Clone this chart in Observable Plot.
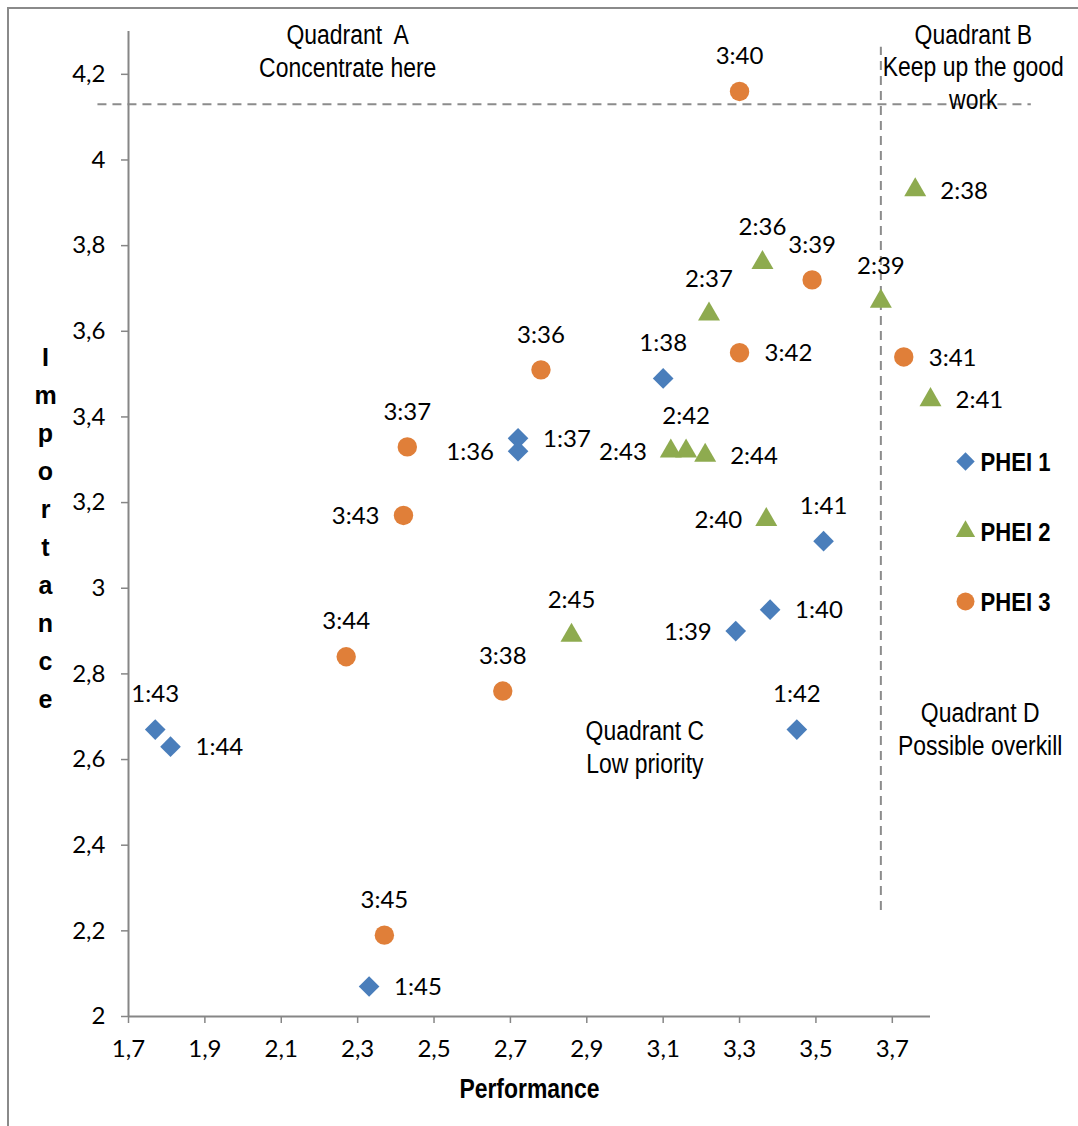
<!DOCTYPE html>
<html><head><meta charset="utf-8">
<script src="https://cdn.jsdelivr.net/npm/d3@7"></script>
<script src="https://cdn.jsdelivr.net/npm/@observablehq/plot@0.6"></script>
<style>
body{margin:0;background:#fff;}
#wrap{position:relative;width:1078px;height:1126px;overflow:hidden;background:#fff;}
#frame{position:absolute;left:7px;top:7px;width:1200px;height:1200px;border:2px solid #8a8a8a;box-sizing:border-box;}
#chart{position:absolute;left:0;top:0;}
</style></head><body>
<div id="wrap"><div id="frame"></div><div id="chart"></div></div>
<script>
// ---- data ----
const seriesNames = ["PHEI 1", "PHEI 2", "PHEI 3"];
const seriesColors = ["#4a7ebb", "#8eab4f", "#e07f39"];

const p1Ids  = ["1:36","1:37","1:38","1:39","1:40","1:41","1:42","1:43","1:44","1:45"];
const p1Perf = [2.72, 2.72, 3.10, 3.29, 3.38, 3.52, 3.45, 1.77, 1.81, 2.33];
const p1Imp  = [3.32, 3.35, 3.49, 2.90, 2.95, 3.11, 2.67, 2.67, 2.63, 2.07];
const p1Side = ["left","right","above","left","right","above","above","above","right","right"];

const p2Ids  = ["2:36","2:37","2:38","2:39","2:40","2:41","2:42","2:43","2:44","2:45"];
const p2Perf = [3.36, 3.22, 3.76, 3.67, 3.37, 3.80, 3.16, 3.12, 3.21, 2.86];
const p2Imp  = [3.76, 3.64, 3.93, 3.67, 3.16, 3.44, 3.32, 3.32, 3.31, 2.89];
const p2Side = ["above","above","right","above","left","right","above","left","right","above"];

const p3Ids  = ["3:36","3:37","3:38","3:39","3:40","3:41","3:42","3:43","3:44","3:45"];
const p3Perf = [2.78, 2.43, 2.68, 3.49, 3.30, 3.73, 3.30, 2.42, 2.27, 2.37];
const p3Imp  = [3.51, 3.33, 2.76, 3.72, 4.16, 3.54, 3.55, 3.17, 2.84, 2.19];
const p3Side = ["above","above","above","above","above","right","right","left","above","above"];

const xTicks = [1.7, 1.9, 2.1, 2.3, 2.5, 2.7, 2.9, 3.1, 3.3, 3.5, 3.7];
const yTicks = [2, 2.2, 2.4, 2.6, 2.8, 3, 3.2, 3.4, 3.6, 3.8, 4, 4.2];

const importanceCut = 4.13;   // horizontal dashed threshold
const performanceCut = 3.67;  // vertical dashed threshold
const hLineExtent = [1.62, 4.064];
const vLineExtent = [2.2475, 4.263];

const quadrantLabels = [
  {text: "Quadrant  A\nConcentrate here", x: 2.274, y: 4.252},
  {text: "Quadrant B\nKeep up the good\nwork", x: 3.912, y: 4.215},
  {text: "Quadrant C\nLow priority", x: 3.052, y: 2.626},
  {text: "Quadrant D\nPossible overkill", x: 3.93, y: 2.670}
];

// ---- build ----
function rows(ids, perf, imp, side, s) {
  return ids.map((id, i) => ({id, x: perf[i], y: imp[i], side: side[i], series: s}));
}
const d1 = rows(p1Ids, p1Perf, p1Imp, p1Side, seriesNames[0]);
const d2 = rows(p2Ids, p2Perf, p2Imp, p2Side, seriesNames[1]);
const d3s = rows(p3Ids, p3Perf, p3Imp, p3Side, seriesNames[2]);
const all = [...d1, ...d2, ...d3s];

const fmt = d => d3.format(".1~f")(d).replace(".", ",");
const labelFont = "Lato, 'Open Sans', sans-serif";
const narrow = "'Liberation Sans Narrow', 'Arial Narrow', 'Liberation Sans', Arial, sans-serif";
const lblSize = 24;

const symbols = ["diamond2", "triangle2", "circle"];
const radii = [9.3, 10.5, 9.7];
const legendRadii = [8.3, 9.2, 9];

const legendMarks = seriesNames.flatMap((name, i) => [
  Plot.dot([name], {frameAnchor: "top-right", dx: 35, dy: 430 + i * 70, symbol: symbols[i], r: legendRadii[i], fill: seriesColors[i]}),
  Plot.text([name], {frameAnchor: "top-right", lineAnchor: "middle", dx: 50, dy: 431 + i * 70, text: d => d, textAnchor: "start",
    fontFamily: narrow, fontWeight: "bold", fontSize: 26, fill: "black", className: "narrowtxt"})
]);

const chart = Plot.plot({
  width: 1078,
  height: 1126,
  marginLeft: 128,
  marginRight: 148,
  marginTop: 31,
  marginBottom: 110,
  x: {domain: [1.7, 3.8]},
  y: {domain: [2, 4.3]},
  style: {fontFamily: labelFont, background: "transparent", overflow: "visible"},
  marks: [
    // dashed thresholds
    Plot.ruleY([importanceCut], {x1: hLineExtent[0], x2: hLineExtent[1], stroke: "#8c8c8c", strokeWidth: 2, strokeDasharray: "9,6"}),
    Plot.ruleX([performanceCut], {y1: vLineExtent[0], y2: vLineExtent[1], stroke: "#8c8c8c", strokeWidth: 2, strokeDasharray: "9,6"}),
    // axes
    Plot.ruleX([1.7], {y1: 2, y2: 4.3, stroke: "#868686", strokeWidth: 2}),
    Plot.ruleY([2], {x1: 1.7, x2: 3.8, stroke: "#868686", strokeWidth: 2}),
    Plot.axisY(yTicks, {tickSize: 7, tickPadding: 16, tickFormat: fmt, fontSize: lblSize, fontFamily: labelFont, stroke: "#868686", strokeWidth: 1.5, fill: "black", label: null}),
    Plot.axisX(xTicks, {tickSize: 7, tickPadding: 16, tickFormat: fmt, fontSize: lblSize, fontFamily: labelFont, stroke: "#868686", strokeWidth: 1.5, fill: "black", label: null}),
    // axis titles
    Plot.text(["Performance"], {frameAnchor: "bottom", lineAnchor: "middle", dy: 73, text: d => d, fontFamily: narrow, fontWeight: "bold", fontSize: 27, fill: "black", className: "narrowtxt"}),
    Plot.text(["I\nm\np\no\nr\nt\na\nn\nc\ne"], {frameAnchor: "left", textAnchor: "middle", dx: -83, dy: 1, text: d => d, lineHeight: 1.52, fontFamily: "'Liberation Sans', Arial, sans-serif", fontWeight: "bold", fontSize: 25, fill: "black"}),
    // quadrant annotations
    Plot.text(quadrantLabels, {x: "x", y: "y", dy: -2, text: "text", fontFamily: narrow, fontSize: 27, lineHeight: 1.22, fill: "black", className: "narrowtxt"}),
    // points
    Plot.dot(d1, {x: "x", y: "y", symbol: symbols[0], r: radii[0], fill: seriesColors[0]}),
    Plot.dot(d2, {x: "x", y: "y", symbol: symbols[1], r: radii[1], fill: seriesColors[1]}),
    Plot.dot(d3s, {x: "x", y: "y", symbol: symbols[2], r: radii[2], fill: seriesColors[2]}),
    // point labels
    Plot.text(all.filter(d => d.side === "above"), {x: "x", y: "y", text: "id", dy: -35, fontSize: lblSize, fontFamily: labelFont, fill: "black"}),
    Plot.text(all.filter(d => d.side === "right"), {x: "x", y: "y", text: "id", dx: 25, dy: 1, textAnchor: "start", fontSize: lblSize, fontFamily: labelFont, fill: "black"}),
    Plot.text(all.filter(d => d.side === "left"), {x: "x", y: "y", text: "id", dx: -24, dy: 1, textAnchor: "end", fontSize: lblSize, fontFamily: labelFont, fill: "black"}),
    ...legendMarks
  ]
});
// condense the Arial-Narrow-style texts horizontally (no narrow font installed)
chart.querySelectorAll(".narrowtxt text").forEach(t => {
  t.setAttribute("transform", (t.getAttribute("transform") || "") + " scale(0.85,1)");
});
document.getElementById("chart").appendChild(chart);
</script>
</body></html>
